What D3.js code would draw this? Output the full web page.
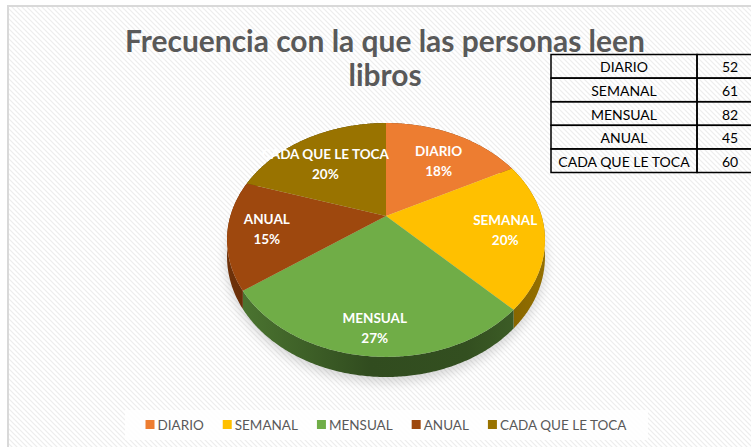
<!DOCTYPE html>
<html>
<head>
<meta charset="utf-8">
<script src="https://cdn.jsdelivr.net/npm/d3@7"></script>
<style>
  body { margin: 0; background: #fff; }
  text { font-family: Lato, "Open Sans", sans-serif; }
</style>
</head>
<body>
<div id="chart"></div>
<script>
// Chart size
const width = 751;
const height = 447;

// Data
const categories = ["DIARIO", "SEMANAL", "MENSUAL", "ANUAL", "CADA QUE LE TOCA"];
const counts = [52, 61, 82, 45, 60];
const colors = ["#ED7D31", "#FFC000", "#70AD47", "#9E480E", "#997300"];
const titleLines = ["Frecuencia con la que las personas leen", "libros"];

// Percent labels that add up to 100 (largest remainder, like Excel shows)
function roundedPercents(vals) {
  const total = d3.sum(vals);
  const raw = vals.map(v => v / total * 100);
  const out = raw.map(Math.floor);
  const left = 100 - d3.sum(out);
  const order = d3.range(vals.length).sort((a, b) => (raw[b] - out[b]) - (raw[a] - out[a]));
  for (let i = 0; i < left; i++) out[order[i]] += 1;
  return out;
}
const percents = roundedPercents(counts);

const svg = d3.select("#chart").append("svg")
  .attr("width", width)
  .attr("height", height);

const defs = svg.append("defs");

// faint diagonal hatch of the chart area
const hatch = defs.append("pattern")
  .attr("id", "hatch")
  .attr("width", 5).attr("height", 5)
  .attr("patternUnits", "userSpaceOnUse");
hatch.append("rect").attr("width", 5).attr("height", 5).attr("fill", "#ffffff");
hatch.append("path")
  .attr("d", "M-1,-1 L6,6 M-1,4 L1,6 M4,-1 L6,1")
  .attr("stroke", "#ededed").attr("stroke-width", 1.2);

// chart area
svg.append("rect")
  .attr("x", 8).attr("y", 6)
  .attr("width", width + 20).attr("height", height + 20)
  .attr("fill", "url(#hatch)")
  .attr("stroke", "#d9d9d9").attr("stroke-width", 2);

// Title
const title = svg.append("g").attr("fill", "#595959").attr("font-weight", "bold");
title.selectAll("text")
  .data(titleLines)
  .enter().append("text")
  .attr("x", 385)
  .attr("y", (d, i) => 52 + i * 34)
  .attr("text-anchor", "middle")
  .attr("font-size", 30)
  .text(d => d);
// fit first line to the reference width
const firstLen = title.select("text").node().getComputedTextLength();
title.selectAll("text").attr("font-size", 30 * 520 / firstLen);

// ---- 3D pie (perspective tilted disc) ----
const cx = 386, apexY = 216;
const A = 155.6, B = 112, p = 0.205, depth = 16;

function proj(r, theta, drop) {
  const x = r * Math.sin(theta);
  const z = -r * Math.cos(theta);
  const k = 1 - p * z;
  return [cx + A * x / k, apexY + (B * z + (drop || 0)) / k];
}

function rimPoints(a0, a1, drop) {
  const n = Math.max(2, Math.ceil((a1 - a0) / 0.01));
  return d3.range(n + 1).map(i => proj(1, a0 + (a1 - a0) * i / n, drop));
}

// bounding ellipse of the projected top face
const topY = apexY - B / (1 + p);
const botY = apexY + B / (1 - p);
const ecy = (topY + botY) / 2;
const ery = (botY - topY) / 2;
const erx = A / Math.sqrt(1 - p * p);

const pie = d3.pie().sort(null).value(d => d)(counts);
const line = d3.line();

// soft shadow under the pie
defs.append("filter").attr("id", "blur")
  .attr("x", "-20%").attr("y", "-20%").attr("width", "140%").attr("height", "140%")
  .append("feGaussianBlur").attr("stdDeviation", 6);
svg.append("path")
  .attr("d", line(rimPoints(0, 2 * Math.PI, depth + 4)) + "Z")
  .attr("fill", "#000").attr("opacity", 0.16)
  .attr("filter", "url(#blur)");

// side wall gradients
pie.forEach((d, i) => {
  const g = defs.append("linearGradient")
    .attr("id", "side" + i)
    .attr("gradientUnits", "userSpaceOnUse")
    .attr("x1", cx - 160).attr("x2", cx + 160)
    .attr("y1", 0).attr("y2", 0);
  const c = d3.color(colors[i]);
  g.append("stop").attr("offset", "0%").attr("stop-color", c.darker(1.0));
  g.append("stop").attr("offset", "45%").attr("stop-color", c.darker(2.3));
  g.append("stop").attr("offset", "75%").attr("stop-color", c.darker(2.2));
  g.append("stop").attr("offset", "100%").attr("stop-color", c.darker(1.5));
});

// side walls
svg.append("g").selectAll("path")
  .data(pie)
  .enter().append("path")
  .attr("d", d => {
    const top = rimPoints(d.startAngle, d.endAngle, 0);
    const bottom = rimPoints(d.startAngle, d.endAngle, depth).reverse();
    return line(top.concat(bottom)) + "Z";
  })
  .attr("fill", (d, i) => `url(#side${i})`);

// top faces
const slicePoints = d => [[cx, apexY]].concat(rimPoints(d.startAngle, d.endAngle, 0));
svg.append("g").selectAll("path")
  .data(pie)
  .enter().append("path")
  .attr("d", d => line(slicePoints(d)) + "Z")
  .attr("fill", (d, i) => colors[i]);

// data labels: bisect the on-screen angle of the slice around the ellipse centre
function screenAngle(pt) {
  return Math.atan2((pt[0] - cx) / erx, -(pt[1] - ecy) / ery);
}
const labels = svg.append("g")
  .attr("fill", "#ffffff")
  .attr("font-weight", "bold")
  .attr("font-size", 13.5)
  .attr("text-anchor", "middle");
pie.forEach((d, i) => {
  const s = screenAngle(proj(1, d.startAngle));
  let e = screenAngle(proj(1, d.endAngle));
  if (e < s) e += 2 * Math.PI;
  const m = (s + e) / 2;
  const lx = cx + 0.75 * erx * Math.sin(m);
  // side labels sit a bit above the widest line, as Excel places them
  const ly = ecy - 0.75 * ery * Math.cos(m) - 10 * (1 - Math.abs(Math.cos(m)));
  labels.append("text").attr("x", lx).attr("y", ly - 4).text(categories[i]);
  labels.append("text").attr("x", lx).attr("y", ly + 16).text(percents[i] + "%");
});

// ---- data table at top right ----
const table = svg.append("g").attr("font-size", 14).attr("fill", "#000");
const rowH = 23.6, tableX = 551, tableY = 54.5, col1 = 146, col2 = 66;
categories.forEach((c, i) => {
  const y = tableY + i * rowH;
  table.append("rect").attr("x", tableX).attr("y", y)
    .attr("width", col1).attr("height", rowH)
    .attr("fill", "none").attr("stroke", "#000").attr("stroke-width", 1.5);
  table.append("rect").attr("x", tableX + col1).attr("y", y)
    .attr("width", col2).attr("height", rowH)
    .attr("fill", "none").attr("stroke", "#000").attr("stroke-width", 1.5);
  table.append("text").attr("x", tableX + col1 / 2).attr("y", y + rowH / 2 + 6)
    .attr("text-anchor", "middle").text(c);
  table.append("text").attr("x", tableX + col1 + 33).attr("y", y + rowH / 2 + 6)
    .attr("text-anchor", "middle").text(counts[i]);
});

// ---- legend ----
svg.append("rect")
  .attr("x", 125).attr("y", 410).attr("width", 523).attr("height", 30)
  .attr("fill", "#ffffff").attr("opacity", 0.85);

const legend = svg.append("g").attr("font-size", 13.5).attr("fill", "#595959");
const items = legend.selectAll("g")
  .data(categories)
  .enter().append("g");
items.append("rect")
  .attr("width", 9).attr("height", 9)
  .attr("y", 420)
  .attr("fill", (d, i) => colors[i]);
items.append("text")
  .attr("x", 12)
  .attr("y", 429.5)
  .text(d => d);
// lay items out side by side, centred
const gap = 19;
const widths = items.nodes().map(n => 12 + d3.select(n).select("text").node().getComputedTextLength());
const totalW = d3.sum(widths) + gap * (widths.length - 1);
let xPos = 386 - totalW / 2;
items.each(function (d, i) {
  d3.select(this).attr("transform", `translate(${xPos},0)`);
  xPos += widths[i] + gap;
});
</script>
</body>
</html>
